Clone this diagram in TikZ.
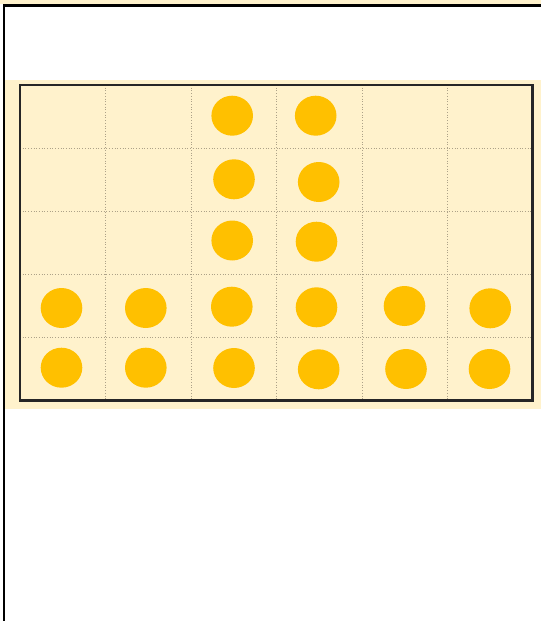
\documentclass[tikz,border=0pt]{standalone}
\definecolor{cream}{HTML}{FFF2CC}
\definecolor{dotc}{HTML}{FFC000}
\definecolor{gridc}{HTML}{ADA288}
\tikzset{
  dotstyle/.style={fill=dotc},
  gridline/.style={gridc, dotted, line width=0.7pt},
  framestyle/.style={black!85, line width=2.4pt},
  outerline/.style={black, line width=2.4pt}
}
\begin{document}
\begin{tikzpicture}[x=1pt,y=-1pt]
\useasboundingbox (0,0) rectangle (541,621);
\fill[white] (0,0) rectangle (541,621);
% cream strip on top and band
\fill[cream] (0,0) rectangle (541,4);
\fill[cream] (5,80) rectangle (541,408.5);
% outer frame lines
\draw[outerline] (4,5.5) -- (541,5.5);
\draw[outerline] (4,4.3) -- (4,621);
% grid
\foreach \x in {105.5,191,276.5,362,447.5} \draw[gridline] (\x,85) -- (\x,400.5);
\foreach \y in {148.3,211.2,274.4,337.7} \draw[gridline] (20,\y) -- (532.5,\y);
% table frame
\draw[framestyle] (20,85) rectangle (532.5,400.5);
% dots
\foreach \x/\y in {232.2/115.7, 315.7/115.7,
                   234/179.3, 318.7/182,
                   232.2/240.5, 316.5/241.7,
                   61.5/308, 145.8/308, 231.8/306.7, 316.5/307.3, 404.5/306, 490.2/308.3,
                   61.5/367.7, 145.8/367.7, 234/368, 318.7/369.3, 406/369, 489.5/369}
  \fill[dotstyle] (\x,\y) ellipse [x radius=20.8, y radius=20];
\end{tikzpicture}
\end{document}
